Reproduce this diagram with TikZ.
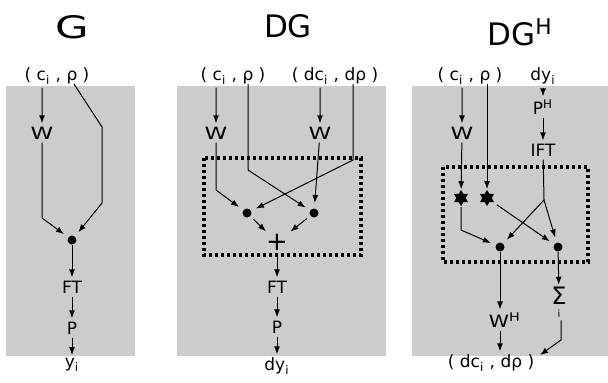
\documentclass[tikz,border=0pt]{standalone}
\usepackage{fontspec}
\setmainfont{DejaVu Sans}
\usetikzlibrary{shapes.geometric,arrows.meta}
\definecolor{panelgray}{HTML}{CCCCCC}
\tikzset{
  panel/.style={fill=panelgray},
  lbl/.style={font=\fontsize{8.5}{10}\selectfont, inner sep=1.5pt},
  wlbl/.style={lbl, xscale=1.35},
  ttl/.style={font=\fontsize{15.5}{18}\selectfont, inner sep=0pt, anchor=base},
  dot/.style={circle, fill=black, inner sep=0pt, minimum size=4.5pt},
  starnode/.style={star, star points=6, star point ratio=1.7, fill=black,
    inner sep=0pt, minimum size=8pt},
  arr/.style={-{Latex[length=4pt,width=3pt]}},
  todot/.style={arr, shorten >=2.5pt},
  dotbox/.style={line width=1.6pt, dash pattern=on 1.6pt off 1.4pt},
}
\begin{document}
\begin{tikzpicture}[x=0.5pt,y=-0.5pt,line width=0.5pt]
  \useasboundingbox (0,0) rectangle (608,382);
  \fill[panel] (6,86) rectangle (135,356);
  \fill[panel] (177,86) rectangle (386,356);
  \fill[panel] (412,86) rectangle (608,356);

  % G
  \node[ttl,xscale=1.4] (titleG) at (72,38) {G};
  \node[lbl] (inG) at (57,76) {( c\textsubscript{i} , ρ )};
  \node[wlbl] (wG) at (42,133) {W};
  \node[dot] (dotG) at (72,240) {};
  \node[lbl] (ftG) at (72,287) {FT};
  \node[lbl] (pG) at (72,328) {P};
  \node[lbl] (yG) at (72,365) {y\textsubscript{i}};
  \coordinate (rhoG) at (74,84);
  \coordinate (rhoG1) at (102,127);
  \coordinate (rhoG2) at (102,203);
  \coordinate (wG1) at (42,218);

  \draw[arr] (inG.south -| wG) -- (wG);
  \draw[todot] (wG) -- (wG1) -- (dotG);
  \draw[todot] (rhoG) -- (rhoG1) -- (rhoG2) -- (dotG);
  \draw[arr] (dotG) -- (ftG);
  \draw[arr] (ftG) -- (pG);
  \draw[arr] (pG) -- (yG);

  % DG
  \node[ttl] (titleDG) at (288,37) {DG};
  \node[lbl] (inDGa) at (233,76) {( c\textsubscript{i} , ρ )};
  \node[lbl] (inDGb) at (335,76) {( dc\textsubscript{i} , dρ )};
  \node[wlbl] (wDGa) at (216,133) {W};
  \node[wlbl] (wDGb) at (320,133) {W};
  \node[dot] (dotDGa) at (247,213) {};
  \node[dot] (dotDGb) at (314,213) {};
  \node[font=\fontsize{13}{14}\selectfont,inner sep=1pt] (plus) at (277,242) {+};
  \node[lbl] (ftDG) at (277,287) {FT};
  \node[lbl] (pDG) at (277,327) {P};
  \node[lbl] (yDG) at (277,366) {dy\textsubscript{i}};
  \draw[dotbox] (204,158) rectangle (361,255);
  \coordinate (rhoDG) at (248,84);
  \coordinate (rhoDG1) at (248,170);
  \coordinate (drhoDG) at (353,84);
  \coordinate (drhoDG1) at (353,160);
  \coordinate (wDG1) at (216,190);

  \draw[arr] (inDGa.south -| wDGa) -- (wDGa);
  \draw[arr] (inDGb.south -| wDGb) -- (wDGb);
  \draw[todot] (wDGa) -- (wDG1) -- (dotDGa);
  \draw[todot] (wDGb) -- (dotDGb);
  \draw[todot] (rhoDG) -- (rhoDG1) -- (dotDGb);
  \draw[todot] (drhoDG) -- (drhoDG1) -- (dotDGa);
  \draw[arr,shorten <=2pt] (dotDGa) -- (plus);
  \draw[arr,shorten <=2pt] (dotDGb) -- (plus);
  \draw[arr] (plus) -- (ftDG);
  \draw[arr] (ftDG) -- (pDG);
  \draw[arr] (pDG) -- (yDG);

  % DG^H
  \node[ttl,anchor=base west] (titleDGH) at (487,45) {DG\textsuperscript{H}};
  \node[lbl] (inH) at (470,76) {( c\textsubscript{i} , ρ )};
  \node[lbl] (dyH) at (543,76) {dy\textsubscript{i}};
  \node[lbl] (pH) at (543,107) {P\textsuperscript{H}};
  \node[lbl] (ift) at (543,150) {IFT};
  \node[wlbl] (wH) at (462,133) {W};
  \node[starnode] (starA) at (461,198) {};
  \node[starnode] (starB) at (487,198) {};
  \node[dot] (dotHa) at (500,247) {};
  \node[dot] (dotHb) at (558,247) {};
  \draw[dotbox] (443,167) rectangle (588,262);
  \node[lbl,xscale=1.2] (wHH) at (505,320) {W\textsuperscript{H}};
  \node[font=\fontsize{12}{14}\selectfont,inner sep=1pt] (sig) at (559,296) {Σ};
  \node[font=\fontsize{5}{6}\selectfont,inner sep=1pt] (sigi) at (559,314) {i};
  \node[lbl] (outH) at (491,363) {( dc\textsubscript{i} , dρ )};
  \coordinate (rhoH) at (487,84);
  \coordinate (br) at (544,200);
  \coordinate (starA1) at (461,230);
  \coordinate (sig1) at (561,340);
  \coordinate (outHin) at (540,355);

  \draw[arr] (inH.south -| wH) -- (wH);
  \draw[arr] (wH) -- (starA);
  \draw[arr] (rhoH) -- (starB);
  \draw[arr] (dyH) -- (pH);
  \draw[arr] (pH) -- (ift);
  \draw (ift) -- (br);
  \draw[todot] (br) -- (dotHa);
  \draw[todot] (br) -- (dotHb);
  \draw[todot] (starA) -- (starA1) -- (dotHa);
  \draw[todot,shorten <=2pt] (starB) -- (dotHb);
  \draw[arr] (dotHa) -- (dotHa |- wHH.north);
  \draw[arr] (wHH.south -| dotHa) -- (outH.north -| dotHa);
  \draw[arr] (dotHb) -- (sig);
  \draw[arr] (sigi.south -| sig1) -- (sig1) -- (outHin);
\end{tikzpicture}
\end{document}
